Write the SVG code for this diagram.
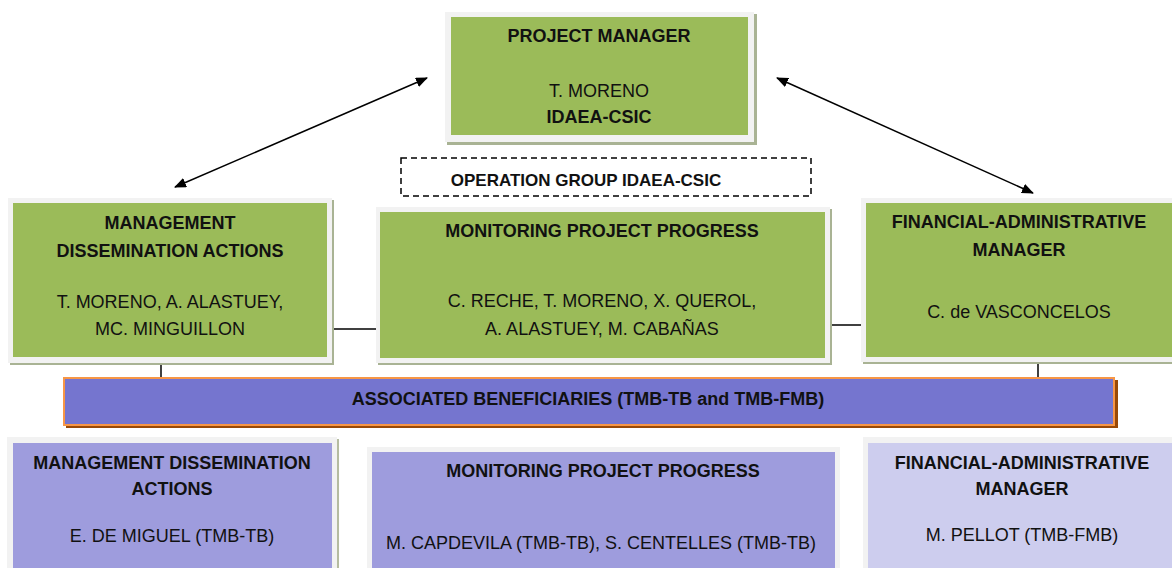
<svg xmlns="http://www.w3.org/2000/svg" width="1172" height="568" viewBox="0 0 1172 568">
<style>
text{font-family:"Liberation Sans",Arial,sans-serif;font-size:18px;fill:#111;text-anchor:middle}
.b{font-weight:bold}
.sh{fill:#A9B394}
.fr{fill:#F2F2F2}
.g{fill:#9BBB59}
.p1{fill:#9E9CDD}
.p2{fill:#CDCDEE}
.ln{stroke:#000;stroke-width:1.5;fill:none}
</style>
<defs>
<marker id="ah" viewBox="0 0 12 10" refX="11" refY="5" markerWidth="12" markerHeight="10" markerUnits="userSpaceOnUse" orient="auto-start-reverse">
<path d="M0,0 L12,5 L0,10 Z" fill="#000"/>
</marker>
</defs>
<rect width="1172" height="568" fill="#fff"/>
<g id="connectors">
<line class="ln" x1="175" y1="187" x2="427" y2="78" marker-start="url(#ah)" marker-end="url(#ah)"/>
<line class="ln" x1="777" y1="78" x2="1033" y2="193" marker-start="url(#ah)" marker-end="url(#ah)"/>
<line class="ln" x1="333" y1="329" x2="376" y2="329"/>
<line class="ln" x1="831" y1="325" x2="866" y2="325"/>
<line class="ln" x1="161" y1="363" x2="161" y2="378"/>
<line class="ln" x1="1038" y1="362" x2="1038" y2="378"/>
</g>
<g id="project-manager">
<rect class="sh" x="447" y="14" width="310" height="131"/>
<rect class="fr" x="445" y="12" width="309" height="130"/>
<rect class="g" x="451" y="17" width="297" height="118"/>
<text class="b" x="599" y="42">PROJECT MANAGER</text>
<text x="599" y="97">T. MORENO</text>
<text class="b" x="599" y="123">IDAEA-CSIC</text>
</g>
<g id="operation-group">
<rect x="401" y="158" width="410" height="38" fill="none" stroke="#000" stroke-width="1.5" stroke-dasharray="6,4"/>
<text class="b" x="586" y="186" style="font-size:17px">OPERATION GROUP IDAEA-CSIC</text>
</g>
<g id="management-dissemination">
<rect class="sh" x="10" y="200" width="324" height="165"/>
<rect class="fr" x="8" y="198" width="324" height="165"/>
<rect class="g" x="13" y="203" width="314" height="154"/>
<text class="b" x="170" y="229">MANAGEMENT</text>
<text class="b" x="170" y="257">DISSEMINATION ACTIONS</text>
<text x="170" y="308">T. MORENO, A. ALASTUEY,</text>
<text x="170" y="335">MC. MINGUILLON</text>
</g>
<g id="monitoring-progress">
<rect class="sh" x="378" y="209" width="454" height="156"/>
<rect class="fr" x="376" y="207" width="454" height="156"/>
<rect class="g" x="380" y="212" width="445" height="146"/>
<text class="b" x="602" y="237">MONITORING PROJECT PROGRESS</text>
<text x="602" y="307">C. RECHE, T. MORENO, X. QUEROL,</text>
<text x="602" y="335">A. ALASTUEY, M. CABAÑAS</text>
</g>
<g id="financial-manager">
<rect class="sh" x="863" y="200" width="320" height="164"/>
<rect class="fr" x="861" y="198" width="320" height="164"/>
<rect class="g" x="866" y="203" width="310" height="154"/>
<text class="b" x="1019" y="228">FINANCIAL-ADMINISTRATIVE</text>
<text class="b" x="1019" y="256">MANAGER</text>
<text x="1019" y="318">C. de VASCONCELOS</text>
</g>
<g id="associated-beneficiaries">
<rect x="66" y="380" width="1052" height="48" fill="#984807"/>
<rect x="64" y="378" width="1050" height="47" fill="#7575CF" stroke="#F79646" stroke-width="2"/>
<text class="b" x="588" y="405">ASSOCIATED BENEFICIARIES (TMB-TB and TMB-FMB)</text>
</g>
<g id="tmb-management-dissemination">
<rect x="9" y="439" width="330" height="135" fill="#B5BCA0"/>
<rect class="fr" x="7" y="437" width="330" height="135"/>
<rect class="p1" x="13" y="443" width="319" height="130"/>
<text class="b" x="172" y="469">MANAGEMENT DISSEMINATION</text>
<text class="b" x="172" y="495">ACTIONS</text>
<text x="172" y="542">E. DE MIGUEL (TMB-TB)</text>
</g>
<g id="tmb-monitoring-progress">
<rect class="fr" x="367" y="447" width="473" height="125"/>
<rect class="p1" x="372" y="452" width="463" height="120"/>
<text class="b" x="603" y="477">MONITORING PROJECT PROGRESS</text>
<text x="601" y="549">M. CAPDEVILA  (TMB-TB), S. CENTELLES (TMB-TB)</text>
</g>
<g id="tmb-financial-manager">
<rect class="fr" x="863" y="437" width="320" height="135"/>
<rect class="p2" x="868" y="443" width="310" height="130"/>
<text class="b" x="1022" y="469">FINANCIAL-ADMINISTRATIVE</text>
<text class="b" x="1022" y="495">MANAGER</text>
<text x="1022" y="541">M. PELLOT (TMB-FMB)</text>
</g>
</svg>
